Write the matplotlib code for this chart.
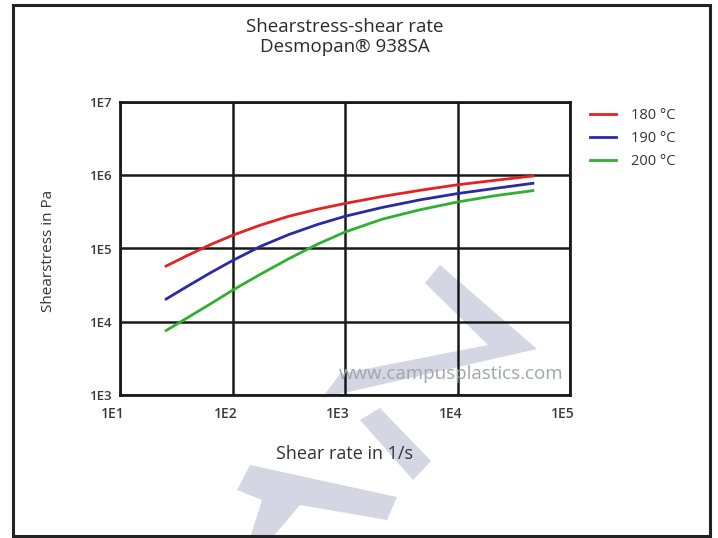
import matplotlib
matplotlib.use('Agg')
import matplotlib.pyplot as plt
from matplotlib.patches import Polygon, Rectangle
from matplotlib.transforms import ScaledTranslation

plt.rcParams['font.family'] = ['Open Sans', 'DejaVu Sans']

# data (decade exponents, log-log chart)
log_rate = [1.41, 1.6, 1.8, 2.0, 2.25, 2.5, 2.75, 3.0, 3.33, 3.67, 4.0, 4.33, 4.67]
log_180 = [4.76, 4.905, 5.05, 5.18, 5.32, 5.44, 5.535, 5.615, 5.71, 5.795, 5.87, 5.93, 5.99]
log_190 = [4.31, 4.485, 4.665, 4.835, 5.03, 5.19, 5.325, 5.44, 5.56, 5.665, 5.75, 5.82, 5.89]
log_200 = [3.88, 4.055, 4.24, 4.43, 4.65, 4.86, 5.055, 5.225, 5.40, 5.53, 5.635, 5.72, 5.79]

shear_rate = [10**v for v in log_rate]
series = [[10**v for v in s] for s in (log_180, log_190, log_200)]

labels = ['180 °C', '190 °C', '200 °C']
colors = ['#e42222', '#2a2aa8', '#2fb12f']
xticks = [1e1, 1e2, 1e3, 1e4, 1e5]
xticklabels = ['1E1', '1E2', '1E3', '1E4', '1E5']
yticks = [1e3, 1e4, 1e5, 1e6, 1e7]
yticklabels = ['1E3', '1E4', '1E5', '1E6', '1E7']

W, H = 718, 538
fig = plt.figure(figsize=(W / 100, H / 100), dpi=100)


def px(x, y):
    return (x / W, 1 - y / H)


# outer frame
fig.patches.append(Rectangle(px(13, 536), 697 / W, 531 / H, transform=fig.transFigure,
                             fill=False, edgecolor='#222222', linewidth=2.2, zorder=-1))

# watermark shapes (behind everything)
wm = '#d4d7e3'
shapes = [
    [(425, 283), (440, 265), (537, 349), (322, 398), (340, 374), (488, 345)],
    [(360, 420), (380, 408), (431, 461), (413, 480)],
    [(237, 490), (250, 465), (397, 497), (387, 520), (300, 505), (272, 538), (250, 538), (262, 500)],
]
for s in shapes:
    fig.patches.append(Polygon([px(*p) for p in s], closed=True, transform=fig.transFigure,
                               facecolor=wm, edgecolor='none', zorder=-2))

ax = fig.add_axes([120 / W, 1 - 395 / H, 450 / W, 293 / H])
ax.set_facecolor('none')
ax.set_xscale('log')
ax.set_yscale('log')
ax.set_xlim(1e1, 1e5)
ax.set_ylim(1e3, 1e7)

for ys, lab, c in zip(series, labels, colors):
    ax.plot(shear_rate, ys, color=c, linewidth=2, label=lab, zorder=3)

ax.set_xticks(xticks)
ax.set_xticklabels(xticklabels, fontweight='semibold')
ax.set_yticks(yticks)
ax.set_yticklabels(yticklabels, fontweight='semibold')
ax.minorticks_off()
ax.tick_params(length=0, colors='#3a3a3a')
ax.tick_params(axis='y', labelsize=9.5, pad=6)
ax.tick_params(axis='x', labelsize=10, pad=9)
shift = ScaledTranslation(-7 / 100, 0, fig.dpi_scale_trans)
for t in ax.get_xticklabels():
    t.set_transform(t.get_transform() + shift)
ax.grid(True, color='#1a1a1a', linewidth=1.8)
for sp in ax.spines.values():
    sp.set_linewidth(2)
    sp.set_color('#1a1a1a')

ax.set_xlabel('Shear rate in 1/s', fontsize=13, color='#333333')
ax.xaxis.set_label_coords(0.5, -(445 - 395) / 293)
ax.set_ylabel('Shearstress in Pa', fontsize=11, color='#333333')
ax.yaxis.set_label_coords(-(120 - 56) / 450, (395 - 251) / 293)

ax.text(0.985, 0.04, 'www.campusplastics.com', transform=ax.transAxes, ha='right',
        va='bottom', fontsize=13.5, color='#a2a4ae', zorder=2)

fig.text(345 / W, 1 - 27 / H, 'Shearstress-shear rate', ha='center', va='center',
         fontsize=13.5, color='#2a2a2a')
fig.text(345 / W, 1 - 47 / H, 'Desmopan® 938SA', ha='center', va='center',
         fontsize=13.5, color='#2a2a2a')

ax.legend(loc='upper left', bbox_to_anchor=(577 / W, 1 - 95 / H), bbox_transform=fig.transFigure,
          frameon=False, fontsize=10.5, handlelength=1.8, handletextpad=1.0, labelspacing=0.55,
          labelcolor='#333333')

fig.savefig('out.png', dpi=100)
